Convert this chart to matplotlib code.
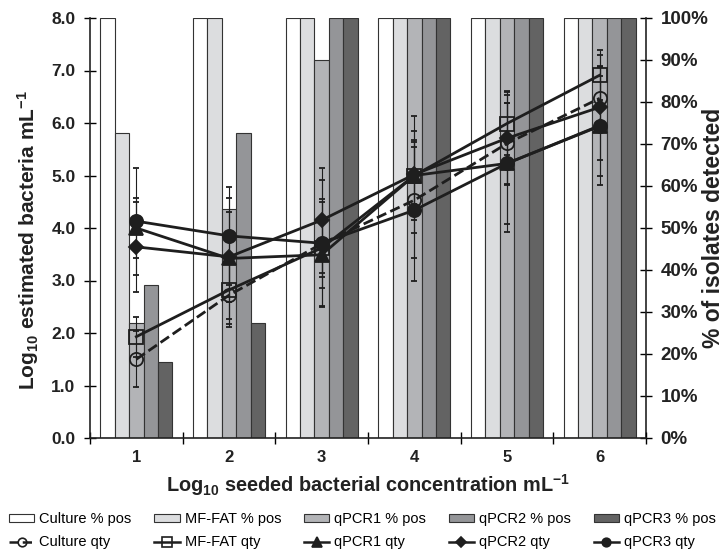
import matplotlib
matplotlib.use("Agg")
import matplotlib.pyplot as plt
import numpy as np
from matplotlib.patches import Patch
from matplotlib.lines import Line2D
from matplotlib.ticker import FixedLocator, FuncFormatter

plt.rcParams['font.family'] = ['Liberation Sans', 'DejaVu Sans']
plt.rcParams['mathtext.fontset'] = 'custom'
plt.rcParams['mathtext.rm'] = 'Liberation Sans:bold'
plt.rcParams['mathtext.bf'] = 'Liberation Sans:bold'
plt.rcParams['mathtext.default'] = 'rm'

categories = [1, 2, 3, 4, 5, 6]

# percent positive (bars)
culture_pct = [100, 100, 100, 100, 100, 100]
mffat_pct = [72.7, 100, 100, 100, 100, 100]
qpcr1_pct = [27.3, 54.5, 90, 100, 100, 100]
qpcr2_pct = [36.4, 72.7, 100, 100, 100, 100]
qpcr3_pct = [18.2, 27.3, 100, 100, 100, 100]

# quantities (log10)
culture_qty = [1.50, 2.72, 3.70, 4.53, 5.61, 6.47]
mffat_qty = [1.93, 2.82, 3.62, 5.00, 5.99, 6.91]
qpcr1_qty = [4.00, 3.42, 3.49, 5.00, 5.23, 5.95]
qpcr2_qty = [3.64, 3.45, 4.15, 5.02, 5.71, 6.30]
qpcr3_qty = [4.13, 3.85, 3.71, 4.34, 5.23, 5.94]

culture_err = [0.53, 0.60, 0.85, 1.10, 0.78, 0.60]
mffat_err = [0.38, 0.65, 0.55, 0.55, 0.60, 0.48]
qpcr1_err = [0.57, 1.15, 1.00, 0.85, 1.30, 1.13]
qpcr2_err = [0.85, 0.85, 1.00, 1.12, 0.90, 1.00]
qpcr3_err = [1.02, 0.93, 1.20, 1.34, 1.16, 0.95]

bar_names = ['Culture % pos', 'MF-FAT % pos', 'qPCR1 % pos', 'qPCR2 % pos', 'qPCR3 % pos']
line_names = ['Culture qty', 'MF-FAT qty', 'qPCR1 qty', 'qPCR2 qty', 'qPCR3 qty']

bar_vals = [culture_pct, mffat_pct, qpcr1_pct, qpcr2_pct, qpcr3_pct]
bar_colors = ['#ffffff', '#dcdddf', '#b3b4b7', '#949598', '#636363']
qty_vals = [culture_qty, mffat_qty, qpcr1_qty, qpcr2_qty, qpcr3_qty]
qty_errs = [culture_err, mffat_err, qpcr1_err, qpcr2_err, qpcr3_err]

W, H = 725, 555
fig = plt.figure(figsize=(W/100, H/100), dpi=100)
ax = fig.add_axes([90/W, 1-438/H, (646-90)/W, (438-18)/H])
axb = ax.twinx()
ax.set_zorder(axb.get_zorder() + 1)
ax.patch.set_visible(False)

x = np.array(categories, dtype=float)
w = 0.155
for i, (vals, col, name) in enumerate(zip(bar_vals, bar_colors, bar_names)):
    axb.bar(x + (i - 2) * w, vals, width=w, color=col, edgecolor='#333333', linewidth=0.8, label=name)

line_color = '#1e1e1e'
styles = [
    dict(ls='--', marker='o', ms=9.5, mfc='none'),
    dict(ls='-', marker='s', ms=10, mfc='none'),
    dict(ls='-', marker='^', ms=10, mfc=line_color),
    dict(ls='-', marker='D', ms=7.5, mfc=line_color),
    dict(ls='-', marker='o', ms=9.5, mfc=line_color),
]
for vals, errs, st, name in zip(qty_vals, qty_errs, styles, line_names):
    ax.errorbar(x, vals, yerr=errs, color=line_color, lw=2.0, ls=st['ls'], marker=st['marker'],
                ms=st['ms'], mfc=st['mfc'], mec=line_color, mew=1.3,
                ecolor=line_color, elinewidth=0.8, capsize=2.5, capthick=0.8, label=name)

ax.set_xlim(0.5, 6.5)
ax.set_ylim(0, 8)
axb.set_ylim(0, 100)

ax.set_yticks(np.arange(0, 8.01, 1.0))
ax.yaxis.set_major_formatter(FuncFormatter(lambda v, p: f'{v:.1f}'))
axb.set_yticks(np.arange(0, 101, 10))
axb.yaxis.set_major_formatter(FuncFormatter(lambda v, p: f'{int(v)}%'))

ax.set_xticks(categories)
ax.set_xticklabels([str(c) for c in categories])
ax.xaxis.set_minor_locator(FixedLocator(np.arange(0.5, 6.6, 1.0)))
ax.tick_params(axis='x', which='major', length=0, pad=9, labelsize=12)
ax.tick_params(axis='x', which='minor', direction='inout', length=8, width=1)
ax.tick_params(axis='y', direction='inout', length=9, width=1, labelsize=12.5, pad=6)
axb.tick_params(axis='y', direction='inout', length=9, width=1, labelsize=13.5, pad=6)
for lab in ax.get_xticklabels() + ax.get_yticklabels() + axb.get_yticklabels():
    lab.set_fontweight('bold')
    lab.set_color('#222222')

for a in (ax, axb):
    a.spines['top'].set_visible(False)
    for s in ('left', 'right', 'bottom'):
        a.spines[s].set_linewidth(1.2)
        a.spines[s].set_color('#222222')
axb.spines['left'].set_visible(False)
ax.spines['right'].set_visible(False)
axb.spines['bottom'].set_visible(False)

fig.text(28/W, 1-240/H, 'Log$_{10}$ estimated bacteria mL$^{-1}$', fontsize=15, fontweight='bold',
         color='#222222', rotation=90, ha='center', va='center')
ax.set_xlabel('Log$_{10}$ seeded bacterial concentration mL$^{-1}$', fontsize=14.3, fontweight='bold',
              color='#222222', labelpad=5)
fig.text(714/W, 1-228/H, '% of isolates detected', fontsize=16.5, fontweight='bold',
         color='#222222', rotation=90, ha='center', va='center')

handles = []
labels = []
for i in range(5):
    handles.append(Patch(facecolor=bar_colors[i], edgecolor='#333333', linewidth=0.8))
    labels.append(bar_names[i])
    st = styles[i]
    handles.append(Line2D([], [], color=line_color, lw=1.8, ls=st['ls'], marker=st['marker'],
                          ms=st['ms'] * 0.65, mfc=st['mfc'], mec=line_color, mew=1.2))
    labels.append(line_names[i])
fig.legend(handles, labels, ncol=5, loc='lower left', mode='expand',
           bbox_to_anchor=(3/W, 0.0, (722-3)/W, 0.1),
           frameon=False, fontsize=10.5, handlelength=1.75, handleheight=0.5,
           columnspacing=1.0, handletextpad=0.35, labelspacing=0.6, borderaxespad=0.0, borderpad=0.4)

fig.savefig('out.png', dpi=100)
